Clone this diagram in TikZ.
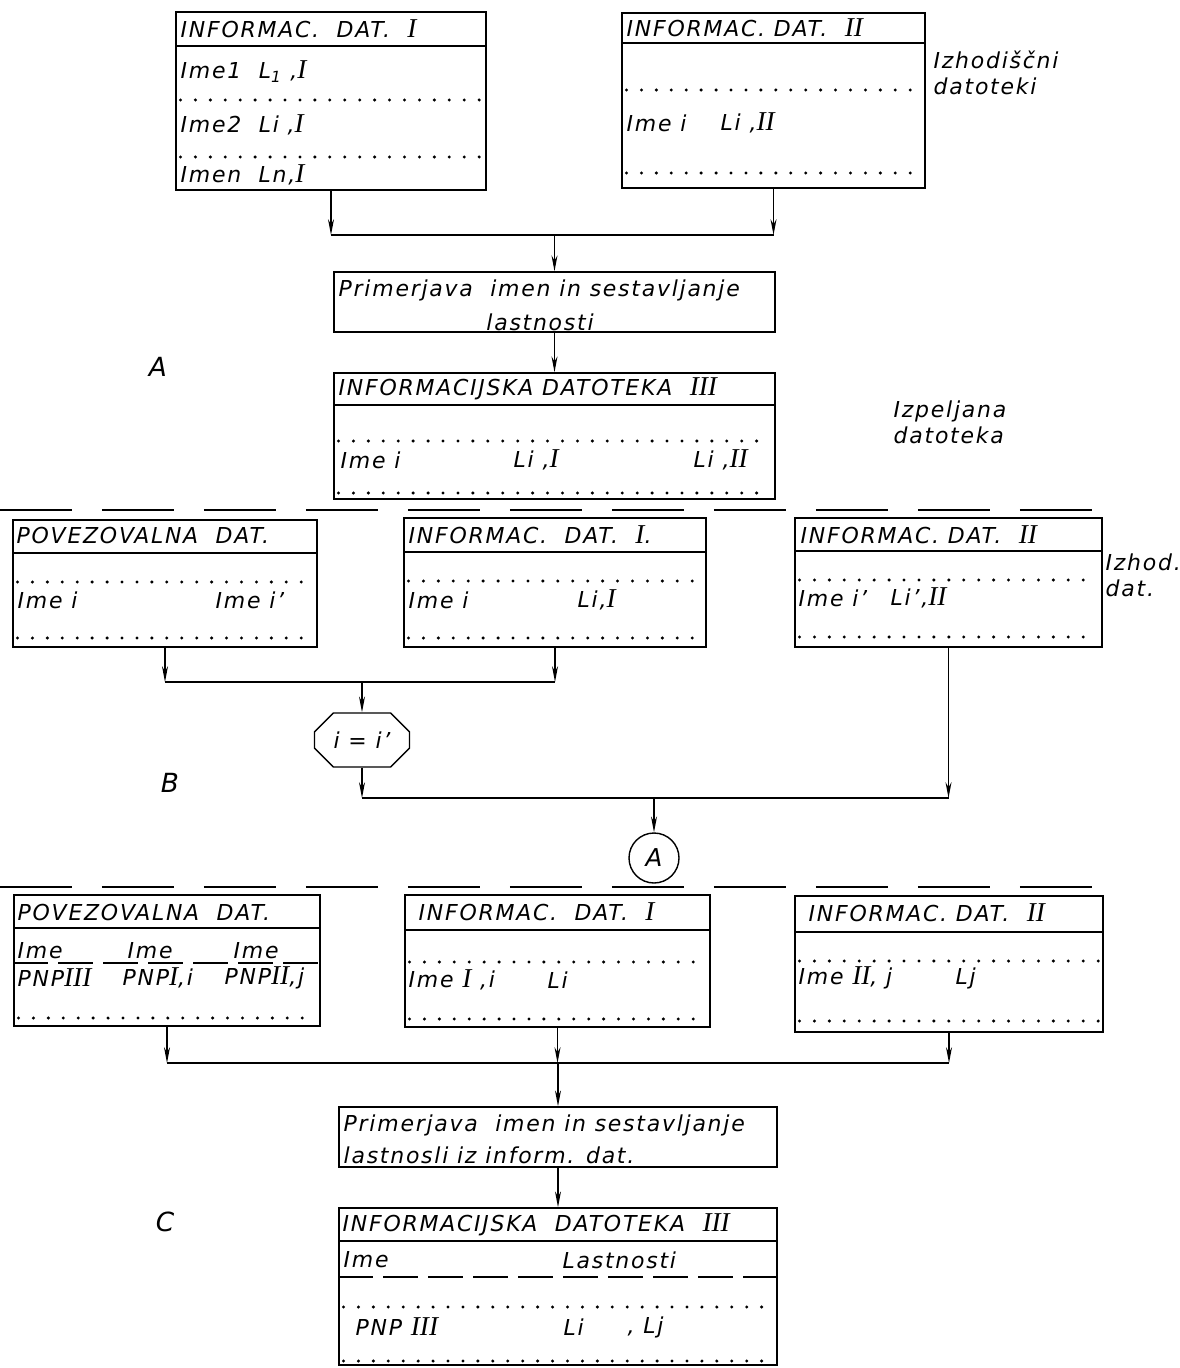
\documentclass[tikz,border=0pt]{standalone}
\usepackage{fontspec}
\setmainfont{DejaVu Sans}[LetterSpace=8]
\newfontfamily\rnfont{Liberation Serif}
\usetikzlibrary{arrows.meta,shapes.misc}
\newcommand\rn[1]{{\rnfont\fontsize{15.5}{15}\selectfont #1}}
\newcommand\pu{0.02cm}

\begin{document}
\begin{tikzpicture}[x=0.02cm,y=-0.02cm,line width=0.8pt,
    every node/.style={font=\fontsize{12.5}{15}\selectfont\itshape},
    dbox/.style={draw,rectangle,inner sep=0pt,line width=0.9pt},
    txt/.style={anchor=west,inner sep=0pt},
    lab/.style={inner sep=0pt,font=\fontsize{15}{18}\selectfont\itshape},
    flow/.style={-{Stealth[length=9pt,width=3.4pt]}},
    dots/.style={line width=1.9pt,line cap=round,dash pattern=on 0pt off 8.5pt,
      shorten <=3pt,shorten >=3pt},
    sep/.style={dash pattern=on 1.44cm off 0.6cm},
    uline/.style={dash pattern=on 0.7cm off 0.2cm}]
  \useasboundingbox (0,0) rectangle (1179,1368);

  % A: two source files
  \node[dbox,minimum width=310*\pu,minimum height=178*\pu] (tI) at (331,101) {};
  \draw (tI.west |- 0,46) -- (tI.east |- 0,46);
  \foreach \y in {100,157}
    \draw[dots] (tI.west |- 0,\y) -- (tI.east |- 0,\y);
  \node[txt] (tIh) at (180,29) {INFORMAC.~~DAT.~~\rn{I}};
  \node[txt] (tI1) at (180,72) {Ime1~~L\textsubscript{1}~,\rn{I}};
  \node[txt] (tI2) at (180,125) {Ime2~~Li~,\rn{I}};
  \node[txt] (tI3) at (180,175) {Imen~~Ln,\rn{I}};

  \node[dbox,minimum width=303*\pu,minimum height=175*\pu] (tII) at (773.5,100.5) {};
  \draw (tII.west |- 0,43) -- (tII.east |- 0,43);
  \foreach \y in {90,173}
    \draw[dots] (tII.west |- 0,\y) -- (tII.east |- 0,\y);
  \node[txt] (tIIh) at (626,28) {INFORMAC.~DAT.~~\rn{II}};
  \node[txt] (tII1) at (626,123) {Ime i};
  \node[txt] (tII2) at (720,123) {Li~,\rn{II}};
  \node[txt,align=left] (izh1) at (933,73) {Izhodiščni\\datoteki};

  \node[dbox,minimum width=441*\pu,minimum height=60*\pu] (pr1) at (554.5,302) {};
  \node[txt] (pr1a) at (338,290) {Primerjava~~imen in sestavljanje};
  \node[inner sep=0pt] (pr1b) at (540,322) {lastnosti};

  \node[dbox,minimum width=441*\pu,minimum height=126*\pu] (inf3) at (554.5,436) {};
  \draw (inf3.west |- 0,405) -- (inf3.east |- 0,405);
  \foreach \y in {441,493}
    \draw[dots] (inf3.west |- 0,\y) -- (inf3.east |- 0,\y);
  \node[txt] (inf3h) at (338,389) {INFORMACIJSKA DATOTEKA~~\rn{III}};
  \node[txt] (inf3a) at (340,460) {Ime i};
  \node[txt] (inf3b) at (513,460) {Li~,\rn{I}};
  \node[txt] (inf3c) at (693,460) {Li~,\rn{II}};

  \node[lab] (labA) at (158,367) {A};
  \node[txt,align=left] (izp) at (893,422) {Izpeljana\\datoteka};

  \coordinate (j1) at (pr1.north |- 0,235);
  \draw[flow] (tI.south) -- (tI.south |- j1);
  \draw[flow] (tII.south) -- (tII.south |- j1);
  \draw (tI.south |- j1) -- (tII.south |- j1);
  \draw[flow] (j1) -- (pr1.north);
  \draw[flow] (pr1.south) -- (inf3.north);

  \draw[sep] (0,510) -- (1110,510);

  % B: link file
  \node[dbox,minimum width=304*\pu,minimum height=127*\pu] (povA) at (165,583.5) {};
  \draw (povA.west |- 0,553) -- (povA.east |- 0,553);
  \foreach \y in {582,638}
    \draw[dots] (povA.west |- 0,\y) -- (povA.east |- 0,\y);
  \node[txt] (povAh) at (16,536) {POVEZOVALNA~~DAT.};
  \node[txt] (povA1) at (17,600) {Ime i};
  \node[txt] (povA2) at (215,600) {Ime i'};

  \node[dbox,minimum width=302*\pu,minimum height=129*\pu] (infA) at (555,582.5) {};
  \draw (infA.west |- 0,552) -- (infA.east |- 0,552);
  \foreach \y in {581,638}
    \draw[dots] (infA.west |- 0,\y) -- (infA.east |- 0,\y);
  \node[txt] (infAh) at (408,535) {INFORMAC.~~DAT.~~\rn{I}.};
  \node[txt] (infA1) at (408,600) {Ime i};
  \node[txt] (infA2) at (577,600) {Li,\rn{I}};

  \node[dbox,minimum width=307*\pu,minimum height=129*\pu] (infB) at (948.5,582.5) {};
  \draw (infB.west |- 0,551) -- (infB.east |- 0,551);
  \foreach \y in {580,637}
    \draw[dots] (infB.west |- 0,\y) -- (infB.east |- 0,\y);
  \node[txt] (infBh) at (800,535) {INFORMAC.~DAT.~~\rn{II}};
  \node[txt] (infB1) at (798,598) {Ime i'};
  \node[txt] (infB2) at (890,598) {Li',\rn{II}};
  \node[txt,align=left] (izh2) at (1105,575) {Izhod.\\dat.};

  \node[draw,chamfered rectangle,chamfered rectangle xsep=6pt,
    chamfered rectangle ysep=6pt,minimum width=95*\pu,minimum height=54*\pu,
    inner sep=0pt] (eq) at (362,740) {i = i'};
  \node[draw,circle,minimum size=50*\pu,inner sep=0pt,
    font=\fontsize{14}{16}\selectfont\itshape] (cA) at (654,858) {A};
  \node[lab] (labB) at (170,783) {B};

  \coordinate (j2) at (eq.north |- 0,682);
  \draw[flow] (povA.south) -- (povA.south |- j2);
  \draw[flow] (infA.south) -- (infA.south |- j2);
  \draw (povA.south |- j2) -- (infA.south |- j2);
  \draw[flow] (j2) -- (eq.north);
  \coordinate (j3) at (cA.north |- 0,798);
  \draw[flow] (eq.south) -- (eq.south |- j3);
  \draw[flow] (infB.south) -- (infB.south |- j3);
  \draw (eq.south |- j3) -- (infB.south |- j3);
  \draw[flow] (j3) -- (cA.north);

  \draw[sep] (0,887) -- (1120,887);

  % C: joined result
  \node[dbox,minimum width=306*\pu,minimum height=131*\pu] (povB) at (167,960.5) {};
  \draw (povB.west |- 0,928) -- (povB.east |- 0,928);
  \draw[uline] (povB.west |- 0,963) -- (povB.east |- 0,963);
  \draw[dots] (povB.west |- 0,1018) -- (povB.east |- 0,1018);
  \node[txt] (povBh) at (17,912) {POVEZOVALNA~~DAT.};
  \node[txt] (povB1) at (17,951) {Ime};
  \node[txt] (povB2) at (127,951) {Ime};
  \node[txt] (povB3) at (233,951) {Ime};
  \node[txt] (povB4) at (17,978) {PNP\rn{III}};
  \node[txt] (povB5) at (122,978) {PNP\rn{I},i};
  \node[txt] (povB6) at (224,978) {PNP\rn{II},j};

  \node[dbox,minimum width=305*\pu,minimum height=132*\pu] (infC) at (557.5,961) {};
  \draw (infC.west |- 0,930) -- (infC.east |- 0,930);
  \foreach \y in {962,1019}
    \draw[dots] (infC.west |- 0,\y) -- (infC.east |- 0,\y);
  \node[txt] (infCh) at (418,912) {INFORMAC.~~DAT.~~\rn{I}};
  \node[txt] (infC1) at (408,980) {Ime \rn{I}~,i};
  \node[txt] (infC2) at (547,980) {Li};

  \node[dbox,minimum width=308*\pu,minimum height=136*\pu] (infD) at (949,964) {};
  \draw (infD.west |- 0,932) -- (infD.east |- 0,932);
  \foreach \y in {961,1021}
    \draw[dots] (infD.west |- 0,\y) -- (infD.east |- 0,\y);
  \node[txt] (infDh) at (808,913) {INFORMAC.~DAT.~~\rn{II}};
  \node[txt] (infD1) at (798,978) {Ime \rn{II},~j};
  \node[txt] (infD2) at (955,978) {Lj};

  \node[dbox,minimum width=438*\pu,minimum height=60*\pu] (pr2) at (558,1137) {};
  \node[txt] (pr2a) at (343,1125) {Primerjava~~imen in sestavljanje};
  \node[txt] (pr2b) at (343,1155) {lastnosli iz inform. dat.};

  \node[dbox,minimum width=438*\pu,minimum height=157*\pu] (inf4) at (558,1286.5) {};
  \draw (inf4.west |- 0,1241) -- (inf4.east |- 0,1241);
  \draw[uline] (inf4.west |- 0,1277) -- (inf4.east |- 0,1277);
  \foreach \y in {1307,1361}
    \draw[dots] (inf4.west |- 0,\y) -- (inf4.east |- 0,\y);
  \node[txt] (inf4h) at (342,1225) {INFORMACIJSKA~~DATOTEKA~~\rn{III}};
  \node[txt] (inf4a) at (343,1260) {Ime};
  \node[txt] (inf4b) at (562,1260) {Lastnosti};
  \node[txt] (inf4c) at (355,1327) {PNP~\rn{III}};
  \node[txt] (inf4d) at (563,1327) {Li};
  \node[txt] (inf4e) at (627,1327) {,~Lj};
  \node[lab] (labC) at (165,1222) {C};

  \coordinate (j4) at (pr2.north |- 0,1063);
  \draw[flow] (povB.south) -- (povB.south |- j4);
  \draw[flow] (infC.south) -- (infC.south |- j4);
  \draw[flow] (infD.south) -- (infD.south |- j4);
  \draw (povB.south |- j4) -- (infD.south |- j4);
  \draw[flow] (j4) -- (pr2.north);
  \draw[flow] (pr2.south) -- (inf4.north);
\end{tikzpicture}
\end{document}
